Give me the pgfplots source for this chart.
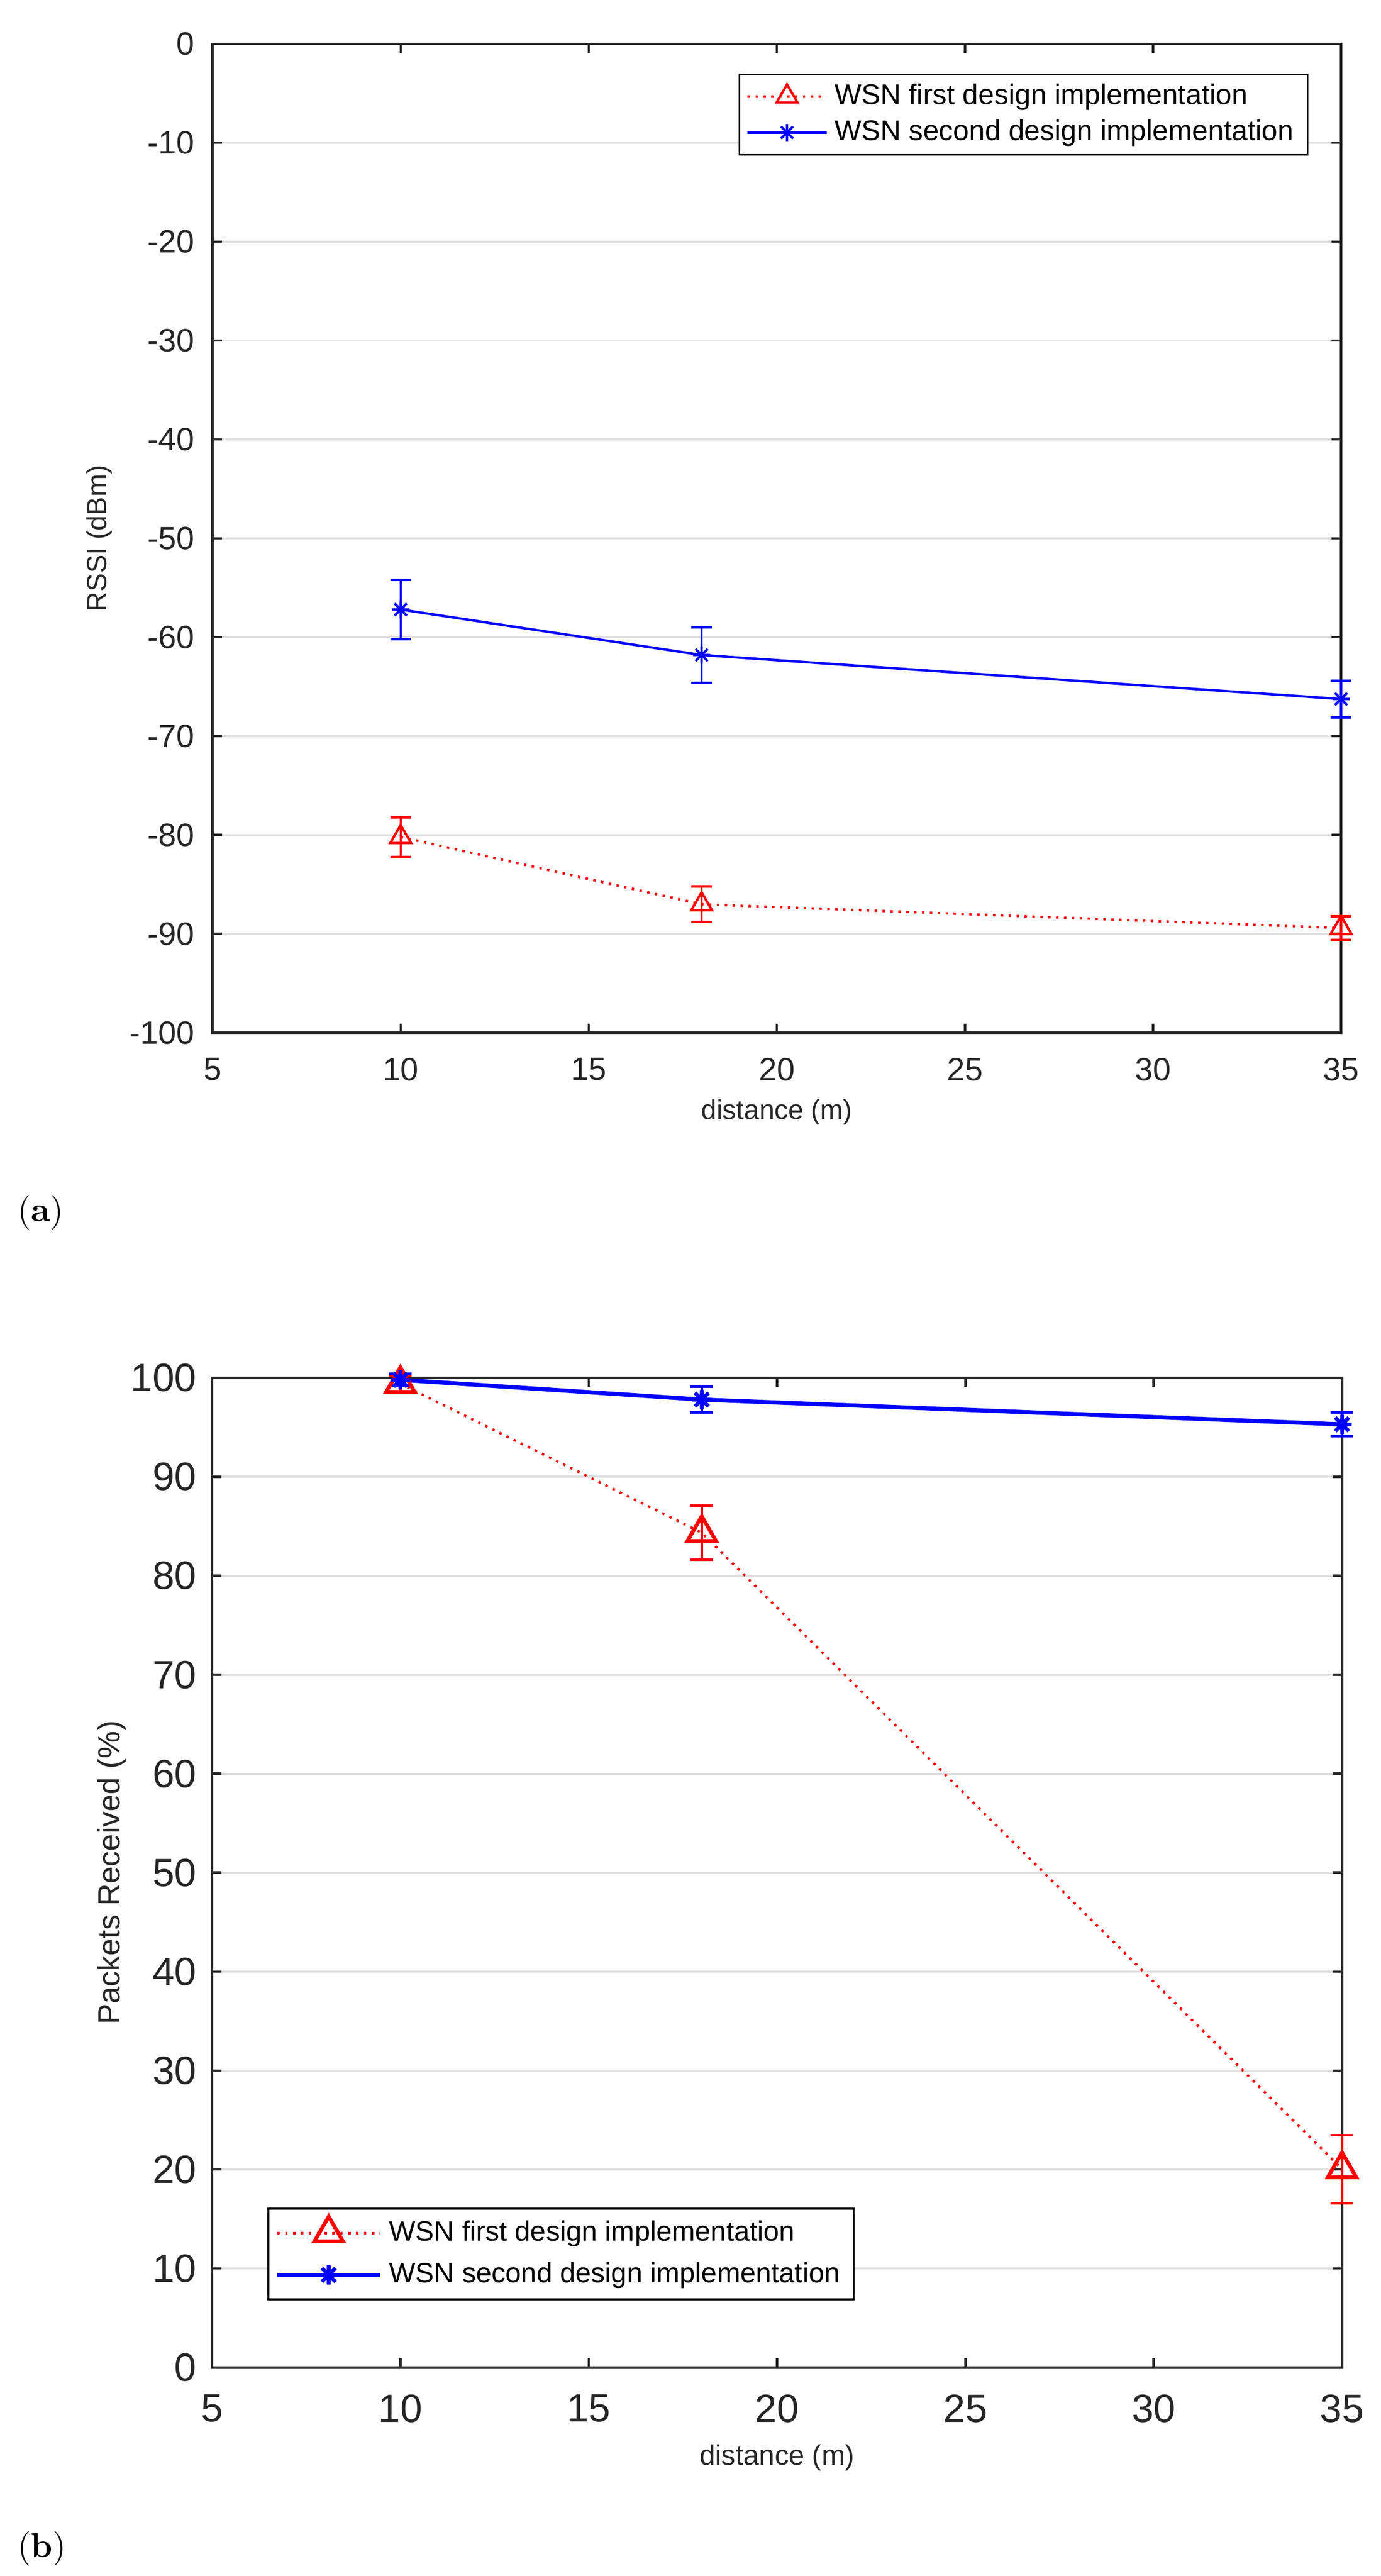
\documentclass[border=0pt]{standalone}
\usepackage{fontspec}
\setsansfont{Liberation Sans}
\usepackage{pgfplots}
\pgfplotsset{compat=1.18}
\definecolor{axgray}{HTML}{262626}
\definecolor{gridgray}{HTML}{DFDFDF}
\pgfdeclareplotmark{mstar}{%
 \pgfpathmoveto{\pgfqpoint{-\pgfplotmarksize}{0pt}}\pgfpathlineto{\pgfqpoint{\pgfplotmarksize}{0pt}}%
 \pgfpathmoveto{\pgfqpoint{0pt}{-\pgfplotmarksize}}\pgfpathlineto{\pgfqpoint{0pt}{\pgfplotmarksize}}%
 \pgfpathmoveto{\pgfqpoint{-0.7071\pgfplotmarksize}{-0.7071\pgfplotmarksize}}\pgfpathlineto{\pgfqpoint{0.7071\pgfplotmarksize}{0.7071\pgfplotmarksize}}%
 \pgfpathmoveto{\pgfqpoint{-0.7071\pgfplotmarksize}{0.7071\pgfplotmarksize}}\pgfpathlineto{\pgfqpoint{0.7071\pgfplotmarksize}{-0.7071\pgfplotmarksize}}%
 \pgfusepathqstroke}
\pgfplotsset{matstyle/.style={
  scale only axis, xmin=5, xmax=35, xtick={5,10,...,35},
  tick align=inside, major tick length=2.7pt,
  axis line style={axgray, line width=0.7pt},
  every tick/.style={axgray, line width=0.7pt},
  ymajorgrids, major grid style={gridgray, line width=0.6pt},
  /pgf/number format/assume math mode=true,
  tick label style={text=axgray},
  label style={text=axgray},
  clip=false,
  legend cell align=left,
}}
\begin{document}
\begin{tikzpicture}
\useasboundingbox (0,0) rectangle (402.3pt,750.45pt);
% ---------- (a) ----------
\begin{axis}[matstyle,
  at={(61.95pt,449.55pt)}, anchor=south west,
  width=328.8pt, height=288.15pt,
  ymin=-100, ymax=0, ytick={-100,-90,...,0},
  tick label style={font=\sffamily\fontsize{9.4}{11}\selectfont},
  xticklabel shift=3.8pt, yticklabel shift=1.8pt,
  xlabel={distance (m)}, ylabel={RSSI (dBm)},
  xlabel style={font=\sffamily\fontsize{8}{10}\selectfont, at={(axis description cs:0.5,-0.0802)}, anchor=center},
  ylabel style={font=\sffamily\fontsize{8}{10}\selectfont, at={(axis description cs:-0.1004,0.5)}, anchor=center},
  legend image code/.code={\draw[mark repeat=2,mark phase=2,#1] plot coordinates {(0pt,0pt) (11.5pt,0pt) (23pt,0pt)};},
  legend style={at={(0.971,0.970)}, anchor=north east, draw=black, line width=0.5pt, fill=white,
    font=\sffamily\fontsize{8.3}{10}\selectfont, inner xsep=2pt, inner ysep=1.2pt, row sep=0pt,
    nodes={inner ysep=1.5pt, inner xsep=2pt}},
]
\addplot[red, line width=0.7pt, dash pattern=on 0.7pt off 1.6pt, mark=triangle, mark size=3.5pt,
  mark options={solid, line width=0.7pt},
  error bars/.cd, y dir=both, y explicit,
  error bar style={solid, line width=0.7pt},
  error mark options={rotate=90, mark size=3pt, line width=0.7pt, solid}]
  coordinates {(10,-80.2) +- (0,2.0) (18,-87.0) +- (0,1.8) (35,-89.4) +- (0,1.2)};
\addlegendentry{WSN first design implementation\hspace{9pt}}
\addplot[blue, line width=0.7pt, mark=mstar, mark size=2.5pt,
  mark options={solid, line width=0.7pt},
  error bars/.cd, y dir=both, y explicit,
  error bar style={line width=0.7pt},
  error mark options={rotate=90, mark size=3pt, line width=0.7pt}]
  coordinates {(10,-57.2) +- (0,3.0) (18,-61.8) +- (0,2.8) (35,-66.25) +- (0,1.85)};
\addlegendentry{WSN second design implementation}
\end{axis}
% ---------- (b) ----------
\begin{axis}[matstyle,
  at={(61.8pt,60.75pt)}, anchor=south west,
  width=329.25pt, height=288.3pt,
  ymin=0, ymax=100, ytick={0,10,...,100},
  tick label style={font=\sffamily\fontsize{11.5}{13}\selectfont},
  xticklabel shift=4.4pt, yticklabel shift=1pt,
  xlabel={distance (m)}, ylabel={Packets Received (\%)},
  xlabel style={font=\sffamily\fontsize{8.2}{10}\selectfont, at={(axis description cs:0.5,-0.0911)}, anchor=center},
  ylabel style={font=\sffamily\fontsize{9}{11}\selectfont, at={(axis description cs:-0.0888,0.5)}, anchor=center},
  legend image code/.code={\draw[mark repeat=2,mark phase=2,#1] plot coordinates {(0pt,0pt) (15pt,0pt) (30pt,0pt)};},
  legend style={at={(0.049,0.068)}, anchor=south west, draw=black, line width=0.5pt, fill=white,
    font=\sffamily\fontsize{8.15}{10}\selectfont, inner xsep=2pt, inner ysep=1pt, row sep=0pt,
    nodes={inner ysep=2.4pt, inner xsep=2pt}},
]
\addplot[red, line width=0.7pt, dash pattern=on 0.7pt off 1.6pt, mark=triangle, mark size=4.8pt,
  mark options={solid, line width=1.1pt},
  error bars/.cd, y dir=both, y explicit,
  error bar style={solid, line width=0.7pt},
  error mark options={rotate=90, mark size=3.3pt, line width=0.7pt, solid}]
  coordinates {(10,99.4) +- (0,0.8) (18,84.35) +- (0,2.75) (35,20.05) +- (0,3.45)};
\addlegendentry{WSN first design implementation\hspace{12pt}}
\addplot[blue, line width=1.2pt, mark=mstar, mark size=2.8pt,
  mark options={solid, line width=1.1pt},
  error bars/.cd, y dir=both, y explicit,
  error bar style={line width=0.7pt},
  error mark options={rotate=90, mark size=3.3pt, line width=0.7pt}]
  coordinates {(10,99.8) +- (0,0.6) (18,97.8) +- (0,1.3) (35,95.3) +- (0,1.2)};
\addlegendentry{WSN second design implementation}
\end{axis}
\node[font=\fontsize{10}{12}\selectfont] at (11.9pt,397.2pt) {(\textbf{a})};
\node[font=\fontsize{10}{12}\selectfont] at (12.2pt,8pt) {(\textbf{b})};
\end{tikzpicture}
\end{document}
